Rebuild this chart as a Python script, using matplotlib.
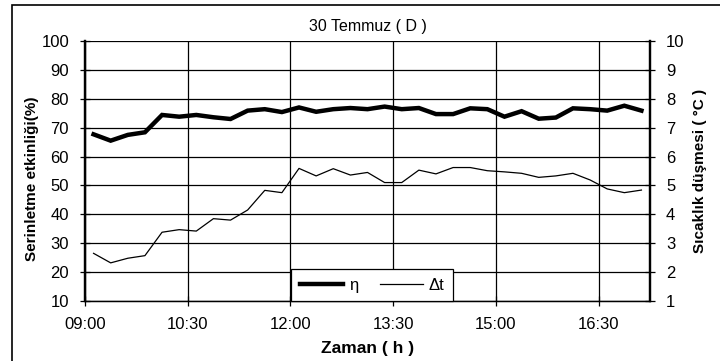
import matplotlib
matplotlib.use("Agg")
import matplotlib.pyplot as plt
from matplotlib.patches import Rectangle

plt.rcParams['font.family'] = ['Liberation Sans', 'DejaVu Sans']

# ── Data (15-min readings, 09:00 - 17:00) ─────────────────────────────────────
times = ["09:00", "09:15", "09:30", "09:45", "10:00", "10:15", "10:30", "10:45",
         "11:00", "11:15", "11:30", "11:45", "12:00", "12:15", "12:30", "12:45",
         "13:00", "13:15", "13:30", "13:45", "14:00", "14:15", "14:30", "14:45",
         "15:00", "15:15", "15:30", "15:45", "16:00", "16:15", "16:30", "16:45",
         "17:00"]
eta = [67.7, 65.5, 67.5, 68.4, 74.4, 73.8, 74.4, 73.6, 73.0, 75.9, 76.4, 75.4,
       77.0, 75.5, 76.4, 76.8, 76.4, 77.3, 76.4, 76.8, 74.7, 74.7, 76.7, 76.4,
       73.8, 75.7, 73.1, 73.5, 76.7, 76.4, 75.9, 77.6, 75.9]
dt = [2.65, 2.32, 2.48, 2.57, 3.38, 3.47, 3.42, 3.85, 3.80, 4.15, 4.83, 4.75,
      5.59, 5.33, 5.58, 5.36, 5.45, 5.10, 5.10, 5.53, 5.40, 5.62, 5.62, 5.51,
      5.47, 5.42, 5.28, 5.33, 5.42, 5.19, 4.88, 4.75, 4.84]
tick_labels = ["09:00", "10:30", "12:00", "13:30", "15:00", "16:30"]

x = list(range(len(times)))

# ── Figure ────────────────────────────────────────────────────────────────────
fig = plt.figure(figsize=(7.2, 3.61), dpi=100)
ax = fig.add_axes([85 / 720, 1 - 301 / 361, 565 / 720, 260 / 361])
ax2 = ax.twinx()

ax.plot(x, eta, color='black', linewidth=3.2, solid_joinstyle='miter', label='η')
ax2.plot(x, dt, color='black', linewidth=0.9, label='Δt')

ax.set_xlim(-0.5, len(x) - 0.5)
ax.set_ylim(10, 100)
ax2.set_ylim(1, 10)
ax.set_yticks(range(10, 101, 10))
ax2.set_yticks(range(1, 11))

tick_pos = [-0.5 + 6 * i for i in range(len(tick_labels))]
ax.set_xticks(tick_pos)
ax.set_xticklabels(tick_labels)

ax.grid(True, color='black', linewidth=0.9)
ax.set_axisbelow(True)

for a in (ax, ax2):
    a.tick_params(direction='inout', length=7, width=0.9, labelsize=12,
                  color='black', pad=8)
    a.spines['top'].set_visible(False)
    a.spines['bottom'].set_linewidth(0.9)
    a.spines['left'].set_linewidth(1.6)
    a.spines['right'].set_linewidth(1.6)

ax.set_ylabel("Serinletme etkinliği(%)", fontsize=11, fontweight='bold', va='center')
ax.yaxis.set_label_coords(-0.093, 0.47)
ax2.set_ylabel("Sıcaklık düşmesi ( °C )", fontsize=11, fontweight='bold', va='center')
ax2.yaxis.set_label_coords(1.088, 0.5)
ax.set_xlabel("Zaman ( h )", fontsize=12.5, fontweight='bold', va='center')
ax.xaxis.set_label_coords(0.5, -0.181)
ax.set_title("30 Temmuz ( D )", fontsize=11.5, pad=7)

h1, l1 = ax.get_legend_handles_labels()
h2, l2 = ax2.get_legend_handles_labels()
leg = ax2.legend(h1 + h2, l1 + l2, loc='lower left', ncol=2,
                 bbox_to_anchor=(0.365, 0.0), borderaxespad=0,
                 frameon=True, fancybox=False, framealpha=1,
                 handlelength=2.6, handletextpad=0.35, columnspacing=1.3,
                 borderpad=0.5, fontsize=12)
leg.get_frame().set_edgecolor('black')
leg.get_frame().set_linewidth(0.9)

# outer chart border
fig.patches.append(Rectangle((12 / 720, -0.05), 1.0, 1 - 5 / 361 + 0.05,
                             transform=fig.transFigure, fill=False,
                             edgecolor='black', linewidth=1.2))

plt.savefig("out.png", dpi=100)
